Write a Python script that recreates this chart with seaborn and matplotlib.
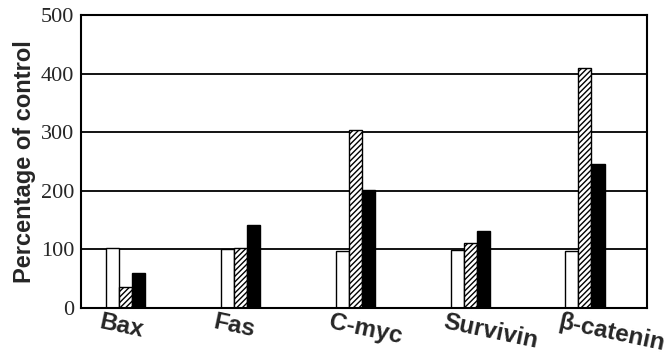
import numpy as np
import pandas as pd
import matplotlib
matplotlib.use('Agg')
import matplotlib.pyplot as plt
import matplotlib.transforms as mtransforms
import seaborn as sns

genes = ['Bax', 'Fas', 'C-myc', 'Survivin', 'β-catenin']
groups = ['control', 'treat 1', 'treat 2']
control = [102, 100, 98, 99, 98]
treat1 = [36, 103, 303, 111, 410]
treat2 = [60, 141, 201, 132, 246]

df = pd.DataFrame({
    'gene': genes * 3,
    'group': [groups[0]] * 5 + [groups[1]] * 5 + [groups[2]] * 5,
    'value': control + treat1 + treat2,
})

sns.set_style('white')
plt.rcParams['hatch.linewidth'] = 1.0

fig = plt.figure(figsize=(6.67, 3.59), dpi=100)
ax = fig.add_axes([0.1214, 0.142, 0.8486, 0.816])

sns.barplot(data=df, x='gene', y='value', hue='group', order=genes, hue_order=groups,
            palette=['white', 'white', 'black'], width=0.34, gap=0,
            edgecolor='black', linewidth=1.0, saturation=1, ax=ax, legend=False)

# hatch the middle series
for bar in ax.containers[1]:
    bar.set_hatch('//////')

ax.set_ylim(0, 500)
ax.set_xlim(-0.39, 4.54)
ax.set_yticks([0, 100, 200, 300, 400, 500])
for y in [100, 200, 300, 400]:
    ax.axhline(y, color='black', lw=1.3, zorder=0)

for s in ax.spines.values():
    s.set_color('black')
    s.set_linewidth(1.5)

ax.tick_params(axis='y', length=0, pad=5)
ax.tick_params(axis='x', length=0, pad=2)
ax.set_yticklabels([str(v) for v in [0, 100, 200, 300, 400, 500]],
                   family='Liberation Serif', fontsize=16)
ax.set_xticks(range(5))
ax.set_xticklabels(genes, family='Liberation Sans', fontweight='bold', fontsize=17.5,
                   rotation=-12, rotation_mode='anchor', ha='left', va='top')
shift = mtransforms.ScaledTranslation(-0.24, 0, fig.dpi_scale_trans)
for lab in ax.get_xticklabels():
    lab.set_transform(lab.get_transform() + shift)
ax.set_xlabel('')
ax.set_ylabel('Percentage of control', family='Liberation Sans', fontweight='bold',
              fontsize=17, labelpad=3)

fig.savefig('out.png', dpi=100)
